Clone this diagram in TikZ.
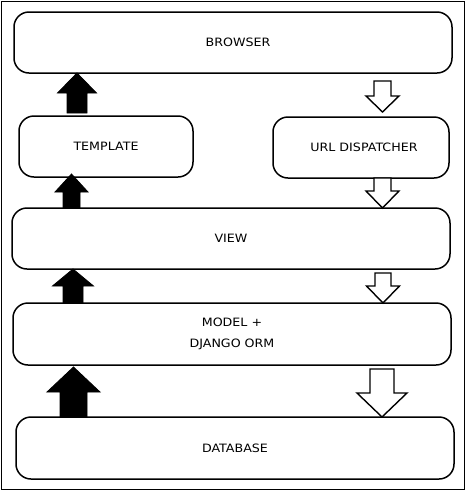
\documentclass[tikz,border=0pt]{standalone}
\usepackage{fontspec}
\setmainfont{DejaVu Sans}[FakeStretch=1.1]
\usetikzlibrary{positioning,calc}

% block arrow: style, x, start, tip, shaft half width, head half width, head length
\newcommand{\fatarrow}[7]{%
  \path[#1] let \p1=(#3), \p2=(#4), \n1={ifthenelse(\y2>\y1,1,-1)} in
    ({#2-#5},\y1) -- ({#2-#5},{\y2-\n1*#7}) -- ({#2-#6},{\y2-\n1*#7}) -- (#2,\y2)
    -- ({#2+#6},{\y2-\n1*#7}) -- ({#2+#5},{\y2-\n1*#7}) -- ({#2+#5},\y1) -- cycle;}

\begin{document}
\begin{tikzpicture}[x=1pt,y=-1pt,font=\fontsize{11.5}{20.5}\selectfont]
	\tikzset{layer/.style={draw,line width=1.5pt,rounded corners=15pt,align=center,inner sep=0pt,outer sep=0pt,minimum width=438pt,minimum height=61pt},
		part/.style={layer,minimum width=174pt},
		uparr/.style={fill=black,draw=black,line width=0.8pt},
		downarr/.style={fill=white,draw=black,line width=1.4pt}}
	\useasboundingbox (0,0) rectangle (466,491);
	\draw[line width=1pt] (1,1) rectangle (464.5,489.5);
	\node [layer] (browser) at (233,42.5) {\hspace*{10pt}BROWSER};
	\node [part, below right=43pt and 5pt of browser.south west] (template) {TEMPLATE};
	\node [part, minimum width=176pt, below left=44pt and 3pt of browser.south east] (urldisp) {\hspace*{6pt}URL DISPATCHER};
	\node [layer, below=135pt of browser, xshift=-2pt] (view) {VIEW};
	\node [layer, minimum height=62pt, below=34pt of view, xshift=1pt] (model) {MODEL +\\DJANGO ORM};
	\node [layer, minimum height=62pt, below=52pt of model, xshift=3pt] (database) {DATABASE};
	% going up
	\fatarrow{uparr}{77}{$(template.north)+(0,-3)$}{browser.south}{10}{19.5}{20}
	\fatarrow{uparr}{71.5}{view.north}{$(template.south)+(0,-3)$}{8.5}{16.5}{18}
	\fatarrow{uparr}{73}{model.north}{view.south}{10}{20.5}{17}
	\fatarrow{uparr}{73.5}{database.north}{$(model.south)+(0,2)$}{13.5}{26.5}{25}
	% going down
	\fatarrow{downarr}{382.5}{$(browser.south)+(0,8)$}{$(urldisp.north)+(0,-5)$}{8.5}{16.5}{16}
	\fatarrow{downarr}{382.5}{urldisp.south}{view.north}{8.5}{16.5}{17}
	\fatarrow{downarr}{383}{$(view.south)+(0,4)$}{model.north}{8}{16.5}{17}
	\fatarrow{downarr}{382}{$(model.south)+(0,4)$}{database.north}{12}{25}{24}
\end{tikzpicture}
\end{document}
